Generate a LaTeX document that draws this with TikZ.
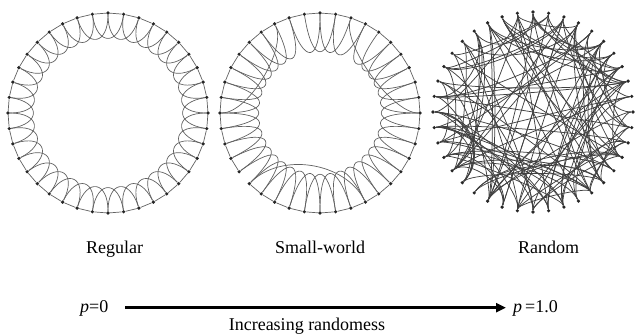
\documentclass[tikz,border=0pt]{standalone}
\usepackage{fontspec}
\setmainfont{Liberation Serif}
\usetikzlibrary{calc,arrows.meta,backgrounds}
\begin{document}
\begin{tikzpicture}[x=1bp,y=1bp,
  dot/.style={circle,fill=black!85,draw=none,minimum size=3.6bp,inner sep=0pt},
  edge/.style={draw=black!62,line width=0.7bp},
  redge/.style={draw=black!75,line width=0.75bp},
  lbl/.style={inner sep=0pt,anchor=base,font=\fontsize{18bp}{20bp}\selectfont},
  axis/.style={line width=2.7bp,-{Triangle[length=10bp,width=9bp]}}]
\useasboundingbox (0,0) rectangle (637,334);
% centres
\coordinate (rc) at (108,221);
\coordinate (sc) at (320,221);
\coordinate (qc) at (533,222);
% nodes
\foreach \i in {0,...,39} {
  \node[dot] (r\i) at ([shift={(108,221)}]{90-9*\i}:100) {};
  \node[dot] (s\i) at ([shift={(320,221)}]{90-9*\i}:100) {};
  \node[dot] (q\i) at ([shift={(533,222)}]{90-9*\i}:100) {};
}
\begin{pgfonlayer}{background}
% regular ring
\foreach \i in {0,...,39} {
  \pgfmathtruncatemacro\j{mod(\i+1,40)}
  \pgfmathtruncatemacro\k{mod(\i+2,40)}
  \draw[edge] (r\i) -- (r\j);
  \draw[edge] (r\i) .. controls ($(r\i)!0.32!(rc)$) and ($(r\k)!0.32!(rc)$) .. (r\k);
}
% small-world ring
\foreach \i in {0,...,39} {
  \pgfmathtruncatemacro\j{mod(\i+1,40)}
  \pgfmathtruncatemacro\k{mod(\i+2,40)}
  \ifnum\i=25 \else \draw[edge] (s\i) -- (s\j); \fi
  \ifnum\i=37 \else \ifnum\i=2 \else
    \draw[edge] (s\i) .. controls ($(s\i)!0.5!(sc)$) and ($(s\k)!0.5!(sc)$) .. (s\k);
  \fi\fi
}
\draw[edge] (s37) .. controls ($(s37)!0.28!(sc)$) and ($(s30)!0.28!(sc)$) .. (s30);
\draw[edge] (s2) .. controls ($(s2)!0.28!(sc)$) and ($(s10)!0.28!(sc)$) .. (s10);
\draw[edge] (s25) .. controls ($(s25)!0.45!(sc)$) and ($(s17)!0.45!(sc)$) .. (s17);
% random graph
\pgfmathsetseed{1998}
\foreach \i in {0,...,39} {
  \foreach \t in {1,2,3} {
    \pgfmathtruncatemacro\j{mod(\i+random(4,36),40)}
    \pgfmathsetmacro\f{0.08+0.3*rnd}
    \draw[redge] (q\i) .. controls ($(q\i)!\f!(qc)$) and ($(q\j)!\f!(qc)$) .. (q\j);
  }
}
\end{pgfonlayer}
% labels
\node[lbl] (lreg) at (114.5,81) {Regular};
\node[lbl] (lsw) at (320,81) {Small-world};
\node[lbl] (lrand) at (548.5,81) {Random};
\node[lbl,anchor=base west] (p0) at (80,22) {\textit{p}=0};
\node[lbl,anchor=base west] (p1) at (513,22) {\textit{p}\,=1.0};
\coordinate (a0) at (125,26.3);
\coordinate (a1) at (506,26.3);
\draw[axis] (a0) -- (a1);
\node[lbl] (inc) at (307,4) {Increasing randomess};
\end{tikzpicture}
\end{document}
